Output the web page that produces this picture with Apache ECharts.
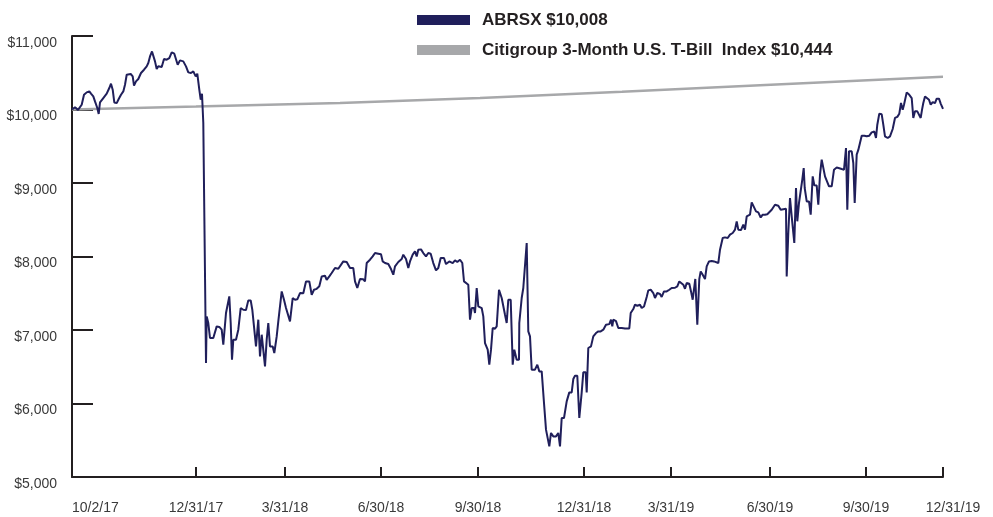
<!DOCTYPE html>
<html>
<head>
<meta charset="utf-8">
<title>ABRSX vs T-Bill</title>
<script src="https://cdn.jsdelivr.net/npm/echarts@6/dist/echarts.min.js"></script>
<style>
  html, body { margin: 0; padding: 0; background: #fff; }
  #chart { width: 993px; height: 517px; }
</style>
</head>
<body>
<div id="chart"></div>
<script>
// x positions are chart units along the period (0 = 10/2/17, 871 = 12/31/19)
const tickPos = [0, 124, 213, 309, 406, 512, 599, 698, 794, 871];
const tickLabels = ["10/2/17", "12/31/17", "3/31/18", "6/30/18", "9/30/18",
  "12/31/18", "3/31/19", "6/30/19", "9/30/19", "12/31/19"];

const abrsxName = "ABRSX $10,008";
const tbillName = "Citigroup 3-Month U.S. T-Bill  Index $10,444";

// [position, value]
const abrsx = [
  [0, 10000], [3, 10030], [6, 9995], [8, 9988], [9.7, 10065], [12, 10200], [14.7, 10233],
  [17.3, 10246], [19, 10215], [21.3, 10178], [23, 10110], [25.3, 10020], [26.7, 9939],
  [28, 10096], [31.3, 10156], [34.7, 10215], [37.3, 10292], [39, 10351], [40.7, 10269],
  [42.3, 10096], [44.7, 10087], [46.7, 10142], [49, 10201], [51.3, 10246], [53, 10337],
  [54.7, 10473], [56.3, 10487], [58.7, 10483], [60.7, 10450], [62, 10324], [64, 10382],
  [66.3, 10415], [69, 10497], [72, 10541], [74.7, 10587], [76.3, 10633], [78, 10722],
  [80, 10790], [81.3, 10768], [83, 10655], [84.7, 10551], [86.3, 10587], [89.7, 10578],
  [92, 10687], [94.7, 10678], [97.3, 10700], [99.7, 10777], [102.3, 10759], [104, 10745],
  [105.7, 10609], [108, 10668], [111.3, 10655], [114, 10587], [116.3, 10505], [119, 10497],
  [121.3, 10519], [123.7, 10450], [125.3, 10487], [127.3, 10269], [128.7, 10133], [130, 10215],
  [131.3, 9816], [133.3, 9793], [134, 6551], [134.7, 7185], [136.3, 7095], [138, 6891],
  [141.3, 6891], [143, 6868], [144.7, 7049], [147.3, 7042], [149.7, 7004], [151.3, 6800],
  [154, 7231], [155.7, 7227], [157.3, 7457], [158.7, 7095], [160, 6596], [161.3, 6868],
  [164, 6868], [166.3, 7004], [168.7, 7299], [171.3, 7276], [174, 7272], [176.3, 7403],
  [178.7, 7403], [180.3, 7276], [182, 7276], [184, 6777], [186.3, 7140], [188, 6641],
  [189.7, 6936], [191.3, 6932], [193, 6505], [194.7, 6868], [196.3, 7095], [198, 6777],
  [200.7, 6777], [202.3, 6687], [204.7, 6913], [206.3, 7117], [208, 7131], [209.7, 7525],
  [212, 7412], [214, 7299], [215.7, 7299], [218, 7117], [220.7, 7435], [223, 7412],
  [225.3, 7418], [228, 7503], [231.3, 7500], [234, 7661], [237.3, 7661], [239.7, 7480],
  [242, 7548], [244.7, 7560], [247.3, 7594], [249.7, 7729], [253, 7738], [254.7, 7683],
  [257.3, 7729], [259.7, 7775], [263, 7843], [266.3, 7834], [268, 7829], [271.3, 7933],
  [274.7, 7925], [278, 7843], [281.3, 7843], [283, 7661], [285.3, 7571], [288, 7694],
  [291.3, 7690], [293, 7661], [294.7, 7911], [298, 7956], [300.7, 8001], [303, 8047],
  [306.3, 8038], [309, 8030], [310.7, 7933], [313, 7911], [316.3, 7897], [319, 7829],
  [321.3, 7752], [323, 7865], [326.3, 7925], [329.7, 7966], [331.3, 8025], [334, 7966],
  [336.3, 7843], [338, 7933], [340.7, 8025], [343, 8070], [344.7, 8001], [346.3, 8092],
  [349, 8097], [351.3, 8047], [354, 8001], [356.3, 8047], [358.7, 8038], [361.3, 7911],
  [364, 7811], [366.3, 7843], [368.7, 7979], [372, 7979], [374, 7897], [377.3, 7933],
  [380.7, 7911], [383, 7947], [385.3, 7925], [388, 7956], [390.3, 7911], [392, 7661],
  [394, 7639], [396.3, 7616], [398, 7140], [399.7, 7299], [402, 7299], [403, 7231],
  [404.7, 7571], [406.3, 7322], [409.7, 7299], [411.3, 7185], [413, 6823], [415.7, 6732],
  [417.3, 6528], [419, 6732], [420.7, 7027], [423, 7018], [424.7, 7049], [427, 7548],
  [429.7, 7435], [431.3, 7435], [433, 7208], [434.7, 7095], [436.3, 7412], [438.7, 7412],
  [440.7, 6528], [442.3, 6732], [444.7, 6596], [447, 6596], [447.3, 7095], [449.7, 7435],
  [451.3, 7571], [453, 7571], [454.7, 8184], [456.3, 6981], [458, 6913], [459.7, 6460],
  [463, 6460], [465.3, 6528], [467.3, 6437], [469.7, 6437], [472, 6007], [474, 5644],
  [475.7, 5644], [477.3, 5416], [479, 5599], [481.3, 5552], [484, 5552], [486.3, 5599],
  [488, 5416], [489.7, 5803], [492, 5803], [494.7, 6029], [497.3, 6151], [499.7, 6151],
  [501.3, 6333], [503, 6378], [505.3, 6378], [507.3, 5803], [509.7, 6151], [511.3, 6424],
  [513.7, 6424], [514.7, 6151], [516.3, 6755], [519, 6777], [521.3, 6913], [524, 6959],
  [526.3, 6981], [528.7, 6981], [531.3, 7004], [534, 7072], [537.3, 7080], [539, 7140],
  [540.3, 7049], [541.3, 7140], [544, 7120], [546.3, 7027], [549.7, 7027], [553, 7020],
  [554.7, 7010], [557.3, 7020], [558.7, 7231], [561.3, 7285], [563, 7344], [565.3, 7330],
  [568, 7344], [569.7, 7299], [572, 7320], [574.7, 7449], [576.3, 7539], [578.7, 7548],
  [581.3, 7503], [583, 7435], [585.3, 7503], [588, 7490], [589.7, 7450], [592, 7525],
  [594.7, 7525], [597.3, 7548], [599.7, 7571], [603, 7575], [605.3, 7594], [607.3, 7661],
  [609, 7650], [611.3, 7616], [613, 7561], [614.7, 7639], [617.3, 7630], [619, 7525],
  [620.7, 7412], [622, 7400], [623.3, 7694], [624.7, 7690], [625.3, 7072], [627.3, 7694],
  [628.7, 7797], [630.7, 7752], [633, 7694], [634.7, 7865], [637, 7933], [639.7, 7940],
  [642, 7933], [644, 7911], [646.3, 7911], [648, 8092], [650.7, 8252], [653, 8260],
  [655.7, 8252], [658, 8297], [660.7, 8320], [663, 8365], [664.7, 8478], [666.3, 8365],
  [669, 8360], [671.3, 8433], [673, 8365], [674.7, 8546], [678, 8569], [679.7, 8737],
  [681.3, 8745], [684, 8614], [686.3, 8600], [688.7, 8530], [690.7, 8569], [693, 8569],
  [695.3, 8575], [697.3, 8560], [699.7, 8637], [703, 8705], [706.3, 8690], [708.7, 8637],
  [710.7, 8660], [714, 8650], [714.7, 7729], [716.3, 8320], [718, 8796], [719.7, 8546],
  [721.3, 8546], [722.3, 8184], [724, 8932], [725.3, 8479], [727, 8728], [728.7, 8728],
  [730.3, 9047], [731.7, 9204], [732.7, 8932], [734.7, 8750], [737, 8750], [738.7, 8569],
  [740.7, 9090], [742.3, 8970], [744.7, 8965], [746.3, 8705], [748, 9113], [749.7, 9318],
  [751.3, 9310], [753, 9090], [754.7, 9085], [757, 8955], [759.7, 8955], [762, 9181],
  [764.7, 9210], [767.3, 9200], [769.7, 9190], [772, 9181], [774, 9476], [775.3, 8637],
  [777, 9431], [779.7, 9431], [781.3, 9272], [782.7, 8728], [784.7, 9386], [786.3, 9450],
  [788, 9440], [789.7, 9644], [792.3, 9644], [794.7, 9635], [797.3, 9644], [799.7, 9689],
  [802.3, 9700], [804, 9612], [805.3, 9793], [807.3, 9943], [809.7, 9935], [811.3, 9793],
  [813, 9635], [815.7, 9612], [818, 9635], [820.7, 9735], [823, 9885], [825.3, 9900],
  [827.3, 9943], [829, 10088], [830.7, 9995], [832, 10065], [834.7, 10233], [837.3, 10200],
  [839.7, 10156], [841.3, 9885], [843, 9975], [845.3, 9975], [847.3, 9975], [848.7, 9885],
  [850, 9995], [851.3, 10088], [853, 10178], [854.7, 10178], [857, 10133], [858.7, 10065],
  [860.7, 10100], [863, 10088], [864.7, 10147], [867, 10147], [868.7, 10080], [870.3, 10065],
  [871, 10008]
];

const tbill = [
  [0, 10000], [124, 10040], [268, 10090], [408, 10155], [550, 10240], [688, 10330], [871, 10444]
];

const navy = "#201f5b";
const grey = "#a7a8aa";
const axisInk = "#231f20";
const font = "'Liberation Sans Narrow', 'Liberation Sans', Arial, sans-serif";

const chart = echarts.init(document.getElementById("chart"), null, { renderer: "canvas" });

chart.setOption({
  animation: false,
  backgroundColor: "#fff",
  grid: { left: 72, right: 50, top: 36, bottom: 40, containLabel: false },
  legend: {
    data: [abrsxName, tbillName],
    orient: "vertical",
    left: 417,
    top: 10,
    padding: 0,
    icon: "rect",
    itemWidth: 53,
    itemHeight: 10,
    itemGap: 10,
    textStyle: {
      fontFamily: font,
      fontWeight: "bold",
      fontSize: 17,
      lineHeight: 20,
      color: "#231f20",
      padding: [0, 0, 0, 7]
    }
  },
  xAxis: {
    type: "value",
    min: 0,
    max: 871,
    axisLine: { show: true, lineStyle: { color: axisInk, width: 2 } },
    axisTick: {
      show: true,
      inside: true,
      length: 10,
      customValues: tickPos.slice(1),
      lineStyle: { color: axisInk, width: 2 }
    },
    axisLabel: {
      customValues: tickPos,
      margin: 24,
      fontFamily: font,
      fontSize: 14,
      color: "#3a3a3a",
      alignMinLabel: "left",
      formatter: function (v) {
        const i = tickPos.indexOf(v);
        const t = i >= 0 ? tickLabels[i] : "";
        return i === tickPos.length - 1 ? "{end|" + t + "}" : t;
      },
      rich: {
        end: { fontFamily: font, fontSize: 14, color: "#3a3a3a", padding: [0, 0, 0, 20] }
      }
    },
    splitLine: { show: false }
  },
  yAxis: {
    type: "value",
    min: 5000,
    max: 11000,
    interval: 1000,
    axisLine: { show: true, lineStyle: { color: axisInk, width: 2 } },
    axisTick: { show: true, inside: true, length: 21, lineStyle: { color: axisInk, width: 2 } },
    axisLabel: {
      margin: 15,
      fontFamily: font,
      fontSize: 14,
      color: "#3a3a3a",
      verticalAlign: "top",
      formatter: function (v) {
        return "$" + v.toLocaleString("en-US");
      }
    },
    splitLine: { show: false }
  },
  series: [
    {
      name: tbillName,
      type: "line",
      data: tbill,
      color: grey,
      showSymbol: false,
      lineStyle: { color: grey, width: 2.5 },
      z: 2
    },
    {
      name: abrsxName,
      type: "line",
      data: abrsx,
      color: navy,
      showSymbol: false,
      lineStyle: { color: navy, width: 2 },
      z: 3
    }
  ]
});
</script>
</body>
</html>
